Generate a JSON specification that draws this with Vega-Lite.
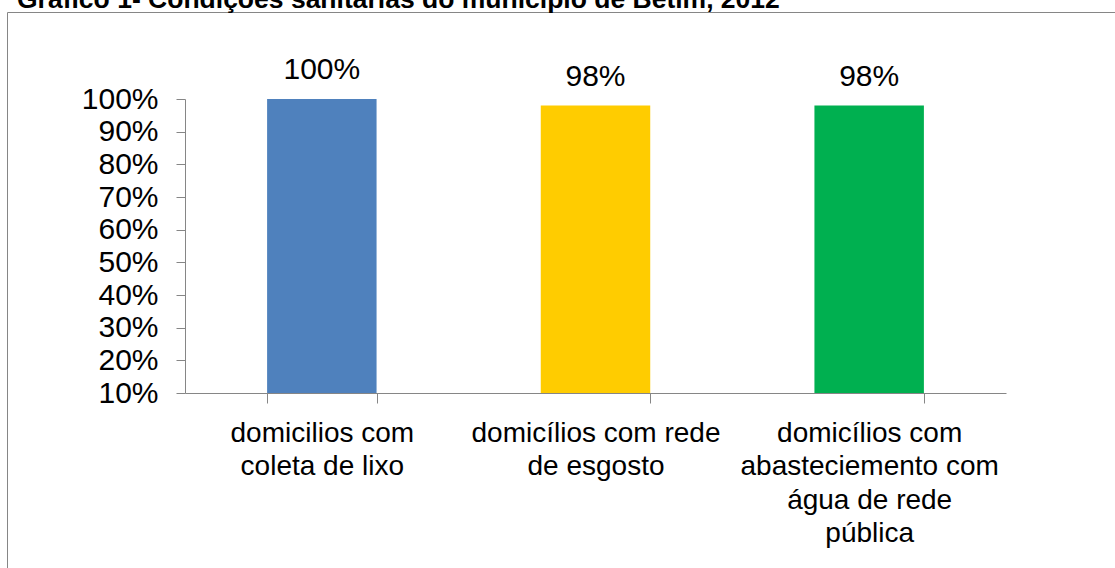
{
  "$schema": "https://vega.github.io/schema/vega-lite/v6.json",
  "width": 1115,
  "height": 568,
  "autosize": {"type": "none"},
  "padding": {"left": 7, "top": 12, "right": 0, "bottom": 0},
  "background": "#ffffff",
  "title": {
    "text": "Gráfico 1- Condições sanitárias do município de Betim, 2012",
    "anchor": "start",
    "frame": "group",
    "font": "Liberation Sans",
    "fontSize": 26.5,
    "fontWeight": "bold",
    "color": "#000000",
    "baseline": "alphabetic",
    "offset": -1,
    "dx": 10,
    "dy": 21
  },
  "data": {
    "values": [
      {"cat": "domicilios com|coleta de lixo", "v": 1.0},
      {"cat": "domicílios com rede|de esgosto", "v": 0.98},
      {"cat": "domicílios com|abasteciemento com|água de rede|pública", "v": 0.98}
    ]
  },
  "encoding": {
    "x": {
      "field": "cat",
      "type": "nominal",
      "sort": null,
      "scale": {"range": [178, 999], "paddingInner": 0.6, "paddingOuter": 0.3},
      "axis": {
        "orient": "bottom",
        "offset": -187,
        "title": null,
        "tickBand": "extent",
        "tickSize": 10,
        "tickColor": "#868686",
        "domainColor": "#868686",
        "labelAngle": 0,
        "labelExpr": "split(datum.label, '|')",
        "labelFont": "Liberation Sans",
        "labelFontSize": 28,
        "labelColor": "#000000",
        "labelLineHeight": 33.5,
        "labelPadding": 16,
        "labelBaseline": "top",
        "labelLimit": 500
      }
    },
    "y": {
      "field": "v",
      "type": "quantitative",
      "scale": {"domain": [0.1, 1], "range": [381, 87], "zero": false, "nice": false},
      "axis": {
        "orient": "left",
        "offset": -178,
        "title": null,
        "grid": false,
        "values": [0.1, 0.2, 0.3, 0.4, 0.5, 0.6, 0.7, 0.8, 0.9, 1.0],
        "format": ".0%",
        "tickSize": 9,
        "tickColor": "#868686",
        "domainColor": "#868686",
        "labelFont": "Liberation Sans",
        "labelFontSize": 30,
        "labelColor": "#000000",
        "labelPadding": 18,
        "labelOverlap": false
      }
    }
  },
  "layer": [
    {
      "mark": {"type": "bar"},
      "encoding": {
        "y2": {"datum": 0.1},
        "color": {
          "field": "cat",
          "type": "nominal",
          "sort": null,
          "scale": {"range": ["#4F81BD", "#FFCC00", "#00B050"]},
          "legend": null
        }
      }
    },
    {
      "mark": {"type": "text", "baseline": "alphabetic", "dy": -20, "font": "Liberation Sans", "fontSize": 30, "color": "#000000"},
      "encoding": {
        "text": {"field": "v", "type": "quantitative", "format": ".0%"}
      }
    }
  ],
  "config": {
    "view": {"stroke": "#868686", "strokeWidth": 1}
  }
}
